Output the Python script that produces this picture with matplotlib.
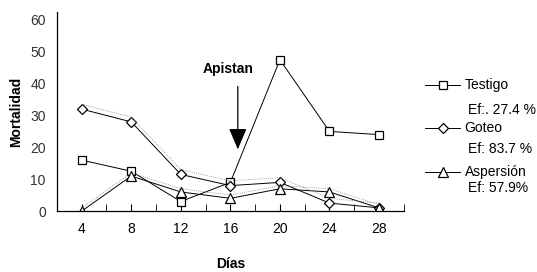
import matplotlib.pyplot as plt

# Data
dias = [4, 8, 12, 16, 20, 24, 28]
testigo = [16, 12.5, 3, 9, 47.5, 25, 24]
goteo = [32, 28, 11.5, 8, 9, 2.5, 1]
aspersion = [0, 11, 6, 4, 7, 6, 1]

series_names = ['Testigo', 'Goteo', 'Aspersión']
eficacia = ['Ef:. 27.4 %', 'Ef: 83.7 %', 'Ef: 57.9%']

plt.rcParams['font.family'] = ['Liberation Sans', 'DejaVu Sans']

fig = plt.figure(figsize=(5.37, 2.72), dpi=100)
ax = fig.add_axes([0.106, 0.224, 0.646, 0.732])

ax.plot(dias, testigo, color='black', lw=0.7, marker='s', ms=5.5,
        mfc='white', mec='black', mew=0.9, label=series_names[0])
ax.plot(dias, goteo, color='black', lw=0.7, marker='D', ms=5,
        mfc='white', mec='black', mew=0.9, label=series_names[1])
ax.plot(dias, aspersion, color='black', lw=0.7, marker='^', ms=7,
        mfc='white', mec='black', mew=0.9, label=series_names[2])

# dotted companions, like the scanned original
ax.plot(dias, [v + 1.5 for v in goteo], color='gray', lw=0.6, ls=':')
ax.plot(dias, [v + 1 for v in aspersion], color='gray', lw=0.6, ls=':')

ax.set_xlim(2, 30)
ax.set_ylim(0, 62.5)
ax.set_xticks(dias)
ax.set_xticks(range(2, 31, 2), minor=True)
ax.set_yticks(range(0, 61, 10))
ax.tick_params(axis='x', which='both', direction='in', length=5,
               labelsize=10, pad=8)
ax.tick_params(axis='y', length=0, labelsize=10, pad=8, labelcolor='#333333')
ax.spines['top'].set_visible(False)
ax.spines['right'].set_visible(False)
ax.spines['left'].set_linewidth(0.9)
ax.spines['bottom'].set_linewidth(0.9)

ax.set_xlabel('Días', fontsize=10, fontweight='bold', labelpad=15)
ax.set_ylabel('Mortalidad', fontsize=10, fontweight='bold', labelpad=5)

# Apistan arrow
ax.annotate('', xy=(16.6, 18.5), xytext=(16.6, 40),
            arrowprops=dict(arrowstyle='-|>,head_length=1.3,head_width=0.55',
                            color='black', lw=0.9))
ax.text(15.8, 44.5, 'Apistan', fontsize=10, fontweight='bold',
        ha='center', va='center')

# legend built by hand
handles = ax.get_lines()[:3]
leg_y = [0.687, 0.530, 0.368]
ef_y = [0.595, 0.452, 0.308]
for h, name, y in zip(handles, series_names, leg_y):
    fig.add_artist(plt.Line2D([0.792, 0.857], [y, y], color='black', lw=0.7,
                              transform=fig.transFigure))
    fig.add_artist(plt.Line2D([0.825], [y], marker=h.get_marker(),
                              ms=h.get_markersize(), mfc='white',
                              mec='black', mew=0.9, ls='none',
                              transform=fig.transFigure))
    fig.text(0.865, y, name, fontsize=10, va='center', ha='left')
for e, y in zip(eficacia, ef_y):
    fig.text(0.872, y, e, fontsize=10, va='center', ha='left')

fig.savefig('out.png', dpi=100)
